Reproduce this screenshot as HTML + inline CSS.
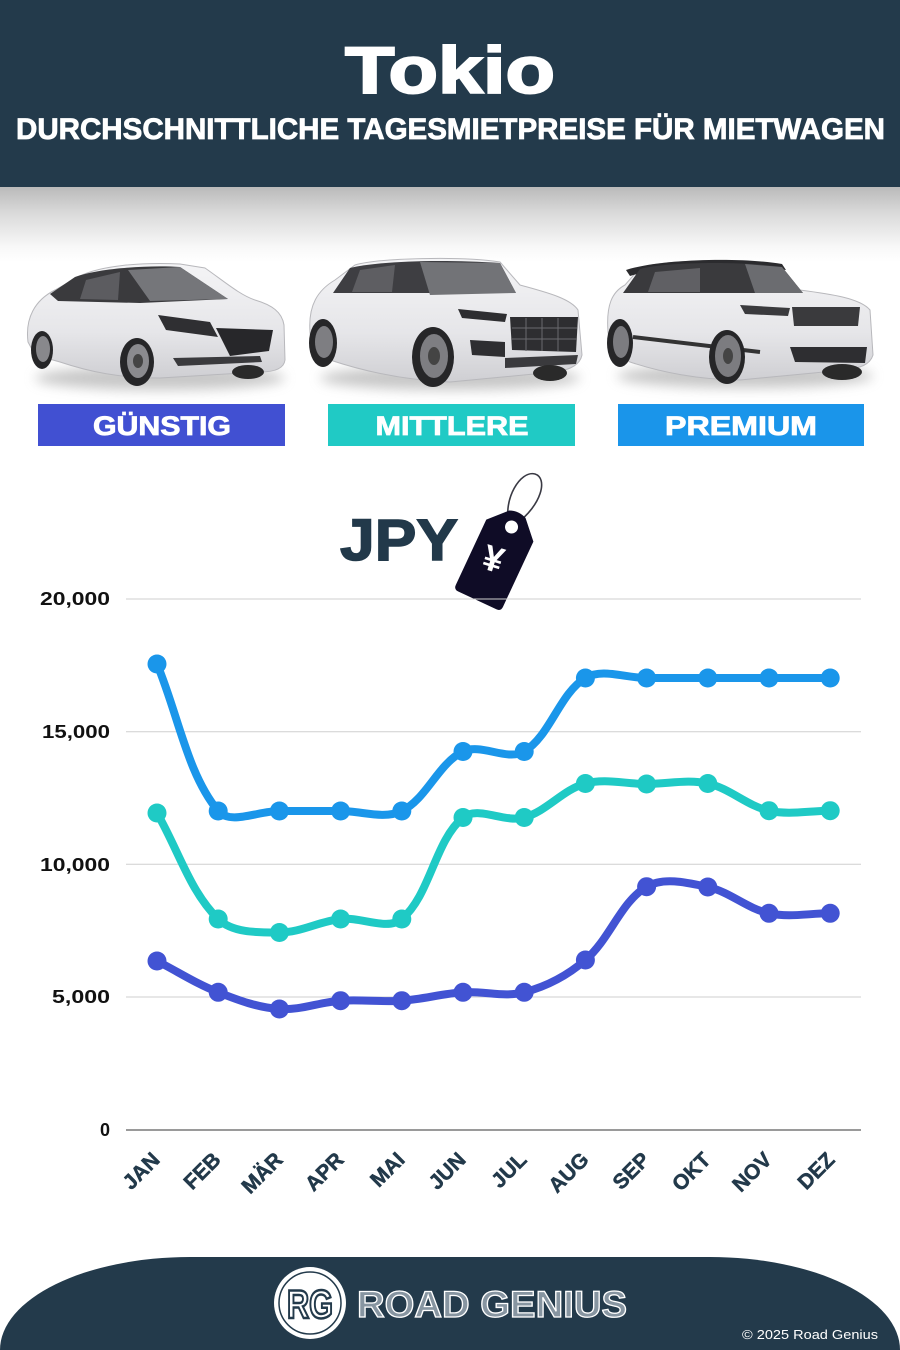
<!DOCTYPE html>
<html>
<head>
<meta charset="utf-8">
<style>
html,body{margin:0;padding:0;background:#fff;}
body{width:900px;height:1350px;overflow:hidden;}
svg{display:block;font-family:"Liberation Sans",sans-serif;}
</style>
</head>
<body>
<svg width="900" height="1350" viewBox="0 0 900 1350" xmlns="http://www.w3.org/2000/svg">
<defs>
  <linearGradient id="shade" x1="0" y1="0" x2="0" y2="1">
    <stop offset="0" stop-color="#bababa"/>
    <stop offset="0.35" stop-color="#dadada"/>
    <stop offset="0.8" stop-color="#f8f8f8"/>
    <stop offset="1" stop-color="#ffffff"/>
  </linearGradient>
  <linearGradient id="bodyG" x1="0" y1="0" x2="0" y2="1">
    <stop offset="0" stop-color="#f4f4f6"/>
    <stop offset="0.6" stop-color="#e6e6e9"/>
    <stop offset="1" stop-color="#cfcfd3"/>
  </linearGradient>
  <filter id="blur6" x="-20%" y="-100%" width="140%" height="300%"><feGaussianBlur stdDeviation="6"/></filter>
</defs>

<!-- Header -->
<rect x="0" y="0" width="900" height="187" fill="#233a4b"/>
<rect x="0" y="187" width="900" height="75" fill="url(#shade)"/>
<text x="450" y="93" text-anchor="middle" font-size="66" font-weight="bold" fill="#fff" stroke="#fff" stroke-width="2" textLength="210" lengthAdjust="spacingAndGlyphs">Tokio</text>
<text x="16" y="139" font-size="30" font-weight="bold" fill="#fff" stroke="#fff" stroke-width="0.8" textLength="869" lengthAdjust="spacingAndGlyphs">DURCHSCHNITTLICHE TAGESMIETPREISE FÜR MIETWAGEN</text>

<!-- Car shadows -->
<ellipse cx="160" cy="378" rx="125" ry="12" fill="#9a9a9a" opacity="0.55" filter="url(#blur6)"/>
<ellipse cx="450" cy="378" rx="130" ry="12" fill="#9a9a9a" opacity="0.55" filter="url(#blur6)"/>
<ellipse cx="745" cy="376" rx="128" ry="12" fill="#9a9a9a" opacity="0.55" filter="url(#blur6)"/>

<!-- Car 1 hatchback -->
<g>
  <path d="M28,342 C25,318 35,300 55,290 L80,276 C100,266 140,262 180,264 L205,268 C225,282 240,295 255,300 C272,305 282,312 284,325 L285,360 C284,368 275,372 260,372 L160,378 C120,378 90,372 60,362 L35,355 Z" fill="url(#bodyG)" stroke="#b8b8bc" stroke-width="1"/>
  <path d="M50,294 L75,277 C100,268 150,265 180,267 L228,299 L140,303 L58,301 Z" fill="#3a3a3d"/>
  <path d="M128,270 L180,267 L228,299 L150,301 Z" fill="#75767a"/>
  <path d="M86,280 L120,272 L118,300 L80,299 Z" fill="#5c5c60"/>
  <path d="M158,315 L210,322 L218,337 L166,330 Z" fill="#2f2f32"/>
  <path d="M216,328 L273,330 L269,351 L230,356 Z" fill="#27272a"/>
  <path d="M173,358 L260,356 L262,362 L178,366 Z" fill="#3a3a3d"/>
  <ellipse cx="248" cy="372" rx="16" ry="7" fill="#2a2a2a"/>
  <ellipse cx="137" cy="362" rx="17" ry="24" fill="#262628"/>
  <ellipse cx="138" cy="361" rx="11" ry="17" fill="#8b8b8f"/>
  <ellipse cx="138" cy="361" rx="5" ry="7" fill="#444"/>
  <ellipse cx="42" cy="350" rx="11" ry="19" fill="#262628"/>
  <ellipse cx="43" cy="349" rx="7" ry="13" fill="#88888c"/>
</g>

<!-- Car 2 SUV -->
<g>
  <path d="M310,332 C308,305 318,290 335,280 L355,265 C380,258 460,256 500,262 L520,285 C545,292 570,298 578,310 L582,355 C580,365 570,370 555,372 L450,382 C400,380 360,370 330,360 L312,350 Z" fill="url(#bodyG)" stroke="#b8b8bc" stroke-width="1"/>
  <path d="M333,293 L350,268 C380,261 440,259 500,263 L516,293 Z" fill="#3e3e42"/>
  <path d="M420,262 L500,263 L516,293 L430,295 Z" fill="#727377"/>
  <path d="M360,270 L395,265 L392,292 L352,292 Z" fill="#5e5e62"/>
  <path d="M458,309 L507,314 L505,322 L462,318 Z" fill="#2e2e31"/>
  <path d="M510,317 L578,317 L576,352 L512,350 Z" fill="#2e2e31"/>
  <g stroke="#6a6a6e" stroke-width="1">
    <line x1="512" y1="328" x2="577" y2="328"/><line x1="512" y1="339" x2="577" y2="339"/>
    <line x1="526" y1="318" x2="526" y2="351"/><line x1="542" y1="318" x2="542" y2="351"/><line x1="558" y1="318" x2="558" y2="351"/>
  </g>
  <path d="M470,340 L505,342 L505,357 L472,355 Z" fill="#2e2e31"/>
  <path d="M505,358 L578,355 L576,364 L505,368 Z" fill="#3a3a3d"/>
  <ellipse cx="550" cy="373" rx="17" ry="8" fill="#2a2a2a"/>
  <ellipse cx="433" cy="357" rx="21" ry="30" fill="#262628"/>
  <ellipse cx="434" cy="356" rx="14" ry="22" fill="#7e7e82"/>
  <ellipse cx="434" cy="356" rx="6" ry="9" fill="#444"/>
  <ellipse cx="323" cy="343" rx="14" ry="24" fill="#262628"/>
  <ellipse cx="324" cy="342" rx="9" ry="16" fill="#7e7e82"/>
</g>

<!-- Car 3 Range Rover -->
<g>
  <path d="M608,332 C606,305 612,292 625,285 L640,268 C660,260 740,258 780,265 L800,290 C830,294 860,298 870,310 L873,355 C870,365 860,368 845,370 L740,380 C700,380 660,372 630,362 L612,352 Z" fill="url(#bodyG)" stroke="#b8b8bc" stroke-width="1"/>
  <path d="M626,270 C660,259 740,257 782,264 L786,270 C740,264 665,265 630,276 Z" fill="#2b2b2e"/>
  <path d="M623,293 L640,269 C665,262 740,261 782,267 L803,293 Z" fill="#3a3a3d"/>
  <path d="M745,264 L782,267 L803,293 L755,293 Z" fill="#6b6c70"/>
  <path d="M655,272 L700,268 L700,292 L648,292 Z" fill="#606064"/>
  <path d="M740,305 L790,308 L788,316 L745,314 Z" fill="#3a3a3d"/>
  <path d="M792,307 L860,307 L858,326 L794,326 Z" fill="#3a3a3d"/>
  <path d="M790,347 L867,347 L865,363 L795,362 Z" fill="#2e2e31"/>
  <line x1="633" y1="337" x2="760" y2="352" stroke="#333" stroke-width="4"/>
  <ellipse cx="842" cy="372" rx="20" ry="8" fill="#2a2a2a"/>
  <ellipse cx="727" cy="357" rx="18" ry="27" fill="#262628"/>
  <ellipse cx="728" cy="356" rx="13" ry="21" fill="#7c7c80"/>
  <ellipse cx="728" cy="356" rx="5" ry="8" fill="#444"/>
  <ellipse cx="620" cy="343" rx="13" ry="24" fill="#262628"/>
  <ellipse cx="621" cy="342" rx="8" ry="16" fill="#7c7c80"/>
</g>

<!-- Category labels -->
<rect x="38" y="404" width="247" height="42" fill="#4150d2"/>
<rect x="328" y="404" width="247" height="42" fill="#20cac5"/>
<rect x="618" y="404" width="246" height="42" fill="#1a95ea"/>
<g font-size="27" font-weight="bold" fill="#fff" stroke="#fff" stroke-width="0.8" text-anchor="middle">
<text x="162" y="435" textLength="138" lengthAdjust="spacingAndGlyphs">GÜNSTIG</text>
<text x="452" y="435" textLength="153" lengthAdjust="spacingAndGlyphs">MITTLERE</text>
<text x="741" y="435" textLength="152" lengthAdjust="spacingAndGlyphs">PREMIUM</text>
</g>

<!-- JPY + tag -->
<text x="340" y="560" font-size="58" font-weight="bold" fill="#22394a" stroke="#22394a" stroke-width="1.5" textLength="118" lengthAdjust="spacingAndGlyphs">JPY</text>
<path d="M509,523 C503,500 520,470 535,474 C548,478 542,505 516,524" fill="none" stroke="#3a3a44" stroke-width="1.6"/>
<g transform="translate(498,556) rotate(25)">
  <path d="M-26,-28 L-9,-46 Q0,-50 9,-46 L26,-28 L26,44 Q26,49 21,49 L-21,49 Q-26,49 -26,44 Z" fill="#0f0c26"/>
  <circle cx="0" cy="-32" r="6.5" fill="#fff"/>
  <text x="-3" y="17" text-anchor="middle" font-size="36" font-weight="bold" fill="#fff" transform="rotate(-8 -3 5)">¥</text>
</g>

<!-- Grid -->
<g stroke="#cfcfcf" stroke-width="1">
  <line x1="126" y1="599" x2="861" y2="599"/>
  <line x1="126" y1="731.7" x2="861" y2="731.7"/>
  <line x1="126" y1="864.3" x2="861" y2="864.3"/>
  <line x1="126" y1="997" x2="861" y2="997"/>
</g>
<line x1="126" y1="1130" x2="861" y2="1130" stroke="#9a9a9a" stroke-width="2"/>

<g font-size="18" font-weight="bold" fill="#111" text-anchor="end">
  <text x="110" y="605" textLength="70" lengthAdjust="spacingAndGlyphs">20,000</text>
  <text x="110" y="738" textLength="68" lengthAdjust="spacingAndGlyphs">15,000</text>
  <text x="110" y="871" textLength="70" lengthAdjust="spacingAndGlyphs">10,000</text>
  <text x="110" y="1003" textLength="58" lengthAdjust="spacingAndGlyphs">5,000</text>
  <text x="110" y="1136">0</text>
</g>

<g font-size="21" font-weight="bold" fill="#22394a" stroke="#22394a" stroke-width="0.5" text-anchor="end">
  <text transform="translate(161,1161) rotate(-45)">JAN</text>
  <text transform="translate(222,1161) rotate(-45)">FEB</text>
  <text transform="translate(284,1161) rotate(-45)">MÄR</text>
  <text transform="translate(345,1161) rotate(-45)">APR</text>
  <text transform="translate(406,1161) rotate(-45)">MAI</text>
  <text transform="translate(467,1161) rotate(-45)">JUN</text>
  <text transform="translate(528,1161) rotate(-45)">JUL</text>
  <text transform="translate(590,1161) rotate(-45)">AUG</text>
  <text transform="translate(651,1161) rotate(-45)">SEP</text>
  <text transform="translate(712,1161) rotate(-45)">OKT</text>
  <text transform="translate(773,1161) rotate(-45)">NOV</text>
  <text transform="translate(836,1161) rotate(-45)">DEZ</text>
</g>

<!-- Series -->
<g fill="none" stroke-width="8" stroke-linecap="round" stroke-linejoin="round">
  <path id="s1" stroke="#4253d3" d="M157,961 L218.2,992.3 L279.4,1009 L340.6,1000.7 L401.8,1000.7 L463,992.3 L524.2,992.3 L585.4,960 L646.6,886.7 L707.8,887 L769,913.3 L830.2,913.3"/>
  <path id="s2" stroke="#1fcac5" d="M157,813 L218.2,919 L279.4,932.5 L340.6,919 L401.8,919 L463,817.5 L524.2,817.5 L585.4,783.5 L646.6,784 L707.8,783.5 L769,810.7 L830.2,810.7"/>
  <path id="s3" stroke="#1a96ea" d="M157,664 L218.2,811 L279.4,811 L340.6,811 L401.8,811 L463,751.5 L524.2,751.5 L585.4,678 L646.6,678 L707.8,678 L769,678 L830.2,678"/>
</g>
<g fill="#4253d3">
  <circle cx="157" cy="961" r="9.5"/><circle cx="218.2" cy="992.3" r="9.5"/><circle cx="279.4" cy="1009" r="9.5"/><circle cx="340.6" cy="1000.7" r="9.5"/><circle cx="401.8" cy="1000.7" r="9.5"/><circle cx="463" cy="992.3" r="9.5"/><circle cx="524.2" cy="992.3" r="9.5"/><circle cx="585.4" cy="960" r="9.5"/><circle cx="646.6" cy="886.7" r="9.5"/><circle cx="707.8" cy="887" r="9.5"/><circle cx="769" cy="913.3" r="9.5"/><circle cx="830.2" cy="913.3" r="9.5"/>
</g>
<g fill="#1fcac5">
  <circle cx="157" cy="813" r="9.5"/><circle cx="218.2" cy="919" r="9.5"/><circle cx="279.4" cy="932.5" r="9.5"/><circle cx="340.6" cy="919" r="9.5"/><circle cx="401.8" cy="919" r="9.5"/><circle cx="463" cy="817.5" r="9.5"/><circle cx="524.2" cy="817.5" r="9.5"/><circle cx="585.4" cy="783.5" r="9.5"/><circle cx="646.6" cy="784" r="9.5"/><circle cx="707.8" cy="783.5" r="9.5"/><circle cx="769" cy="810.7" r="9.5"/><circle cx="830.2" cy="810.7" r="9.5"/>
</g>
<g fill="#1a96ea">
  <circle cx="157" cy="664" r="9.5"/><circle cx="218.2" cy="811" r="9.5"/><circle cx="279.4" cy="811" r="9.5"/><circle cx="340.6" cy="811" r="9.5"/><circle cx="401.8" cy="811" r="9.5"/><circle cx="463" cy="751.5" r="9.5"/><circle cx="524.2" cy="751.5" r="9.5"/><circle cx="585.4" cy="678" r="9.5"/><circle cx="646.6" cy="678" r="9.5"/><circle cx="707.8" cy="678" r="9.5"/><circle cx="769" cy="678" r="9.5"/><circle cx="830.2" cy="678" r="9.5"/>
</g>

<!-- Footer -->
<path d="M0,1350 A190,93 0 0 1 190,1257 L710,1257 A190,93 0 0 1 900,1350 Z" fill="#233a4b"/>
<circle cx="310" cy="1303" r="36" fill="#fff"/>
<circle cx="310" cy="1303" r="31" fill="none" stroke="#233a4b" stroke-width="1.5"/>
<text x="310" y="1318" text-anchor="middle" font-size="40" font-weight="bold" fill="#fff" stroke="#233a4b" stroke-width="2.5" textLength="46" lengthAdjust="spacingAndGlyphs">RG</text>
<text x="357" y="1317" font-size="37" font-weight="bold" fill="#8795a1" stroke="#fff" stroke-width="1.3" textLength="270" lengthAdjust="spacingAndGlyphs">ROAD GENIUS</text>
<text x="742" y="1339" font-size="13" fill="#fff" textLength="136" lengthAdjust="spacingAndGlyphs">© 2025 Road Genius</text>
</svg>
<script>
(function(){
  var xs=[157,218.2,279.4,340.6,401.8,463,524.2,585.4,646.6,707.8,769,830.2];
  var data={
    s1:[961,992.3,1009,1000.7,1000.7,992.3,992.3,960,886.7,887,913.3,913.3],
    s2:[813,919,932.5,919,919,817.5,817.5,783.5,784,783.5,810.7,810.7],
    s3:[664,811,811,811,811,751.5,751.5,678,678,678,678,678]
  };
  var t=0.35;
  function build(ys){
    var p=xs.map(function(x,i){return [x,ys[i]];});
    var cps=p.map(function(cur,i){
      var prev=p[i-1]||cur, next=p[i+1]||cur;
      var d01=Math.hypot(cur[0]-prev[0],cur[1]-prev[1]);
      var d12=Math.hypot(next[0]-cur[0],next[1]-cur[1]);
      var s01=d01/(d01+d12), s12=d12/(d01+d12);
      if(isNaN(s01))s01=0; if(isNaN(s12))s12=0;
      var fa=t*s01, fb=t*s12;
      return {pv:[cur[0]-fa*(next[0]-prev[0]),cur[1]-fa*(next[1]-prev[1])],
              nx:[cur[0]+fb*(next[0]-prev[0]),cur[1]+fb*(next[1]-prev[1])]};
    });
    var d="M"+p[0][0]+","+p[0][1];
    for(var i=1;i<p.length;i++){
      d+=" C"+cps[i-1].nx[0].toFixed(2)+","+cps[i-1].nx[1].toFixed(2)+" "+cps[i].pv[0].toFixed(2)+","+cps[i].pv[1].toFixed(2)+" "+p[i][0]+","+p[i][1];
    }
    return d;
  }
  for(var k in data){document.getElementById(k).setAttribute("d",build(data[k]));}
})();
</script>
</body>
</html>
